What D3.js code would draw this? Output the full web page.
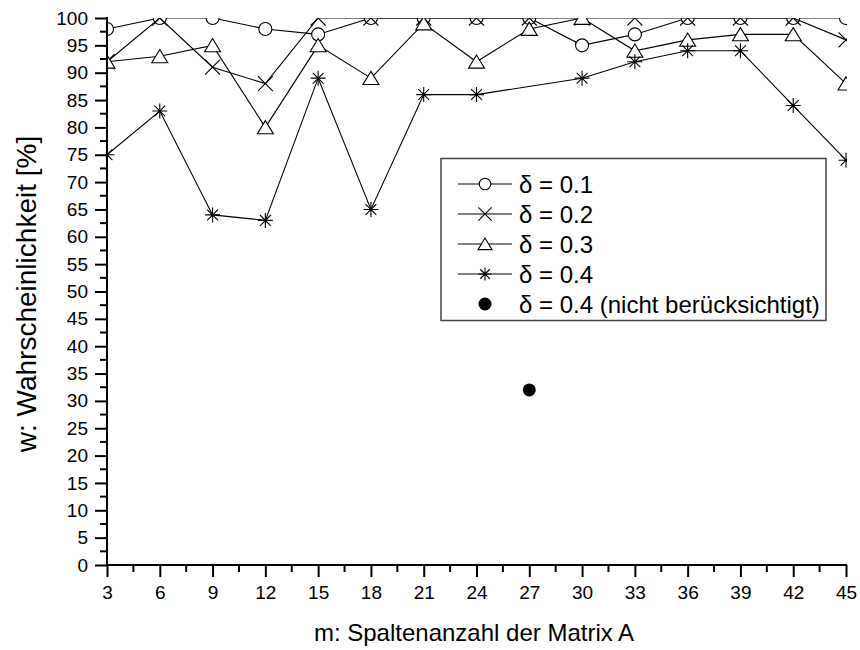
<!DOCTYPE html>
<html><head><meta charset="utf-8">
<script src="https://d3js.org/d3.v7.min.js"></script>
<style>
html,body{margin:0;padding:0;background:#fff;}
svg{display:block;font-family:Arial,"Liberation Sans",sans-serif;}
</style></head>
<body>
<svg id="chart" width="860" height="650"></svg>
<script>
// ---- data ----
const mValues = [3,6,9,12,15,18,21,24,27,30,33,36,39,42,45];
const delta01 = [98,100,100,98,97,100,100,100,100,95,97,100,100,100,100];
const delta02 = [92,100,91,88,100,100,100,100,100,100,100,100,100,100,96];
const delta03 = [92,93,95,80,95,89,99,92,98,100,94,96,97,97,88];
const delta04 = [75,83,64,63,89,65,86,86,null,89,92,94,94,84,74];
const excludedM = [27];
const excludedW = [32];
const seriesNames = ["δ = 0.1","δ = 0.2","δ = 0.3","δ = 0.4"];
const excludedName = "δ = 0.4 (nicht berücksichtigt)";
const xTicks = [3,6,9,12,15,18,21,24,27,30,33,36,39,42,45];
const yTicks = [0,5,10,15,20,25,30,35,40,45,50,55,60,65,70,75,80,85,90,95,100];
const xTitle = "m: Spaltenanzahl der Matrix A";
const yTitle = "w: Wahrscheinlichkeit [%]";

// ---- layout ----
const svg = d3.select("#chart");
const x = d3.scaleLinear().domain([3,45]).range([107,846]);
const y = d3.scaleLinear().domain([0,100]).range([565,18]);

// marker path generators
const markers = {
  circle: (r) => { const s=d3.path(); s.moveTo(r,0); s.arc(0,0,r,0,2*Math.PI); s.closePath(); return s.toString(); },
  cross: (r) => `M${-r},${-r}L${r},${r}M${-r},${r}L${r},${-r}`,
  triangle: (r) => `M0,${-r*0.85}L${r},${r*0.8}L${-r},${r*0.8}Z`,
  star: (r) => { const d=r*0.72; return `M0,${-r}L0,${r}M${-r},0L${r},0M${-d},${-d}L${d},${d}M${-d},${d}L${d},${-d}`; }
};
const series = [
  {name:seriesNames[0], values:delta01, marker:"circle", size:6.5},
  {name:seriesNames[1], values:delta02, marker:"cross", size:7.5},
  {name:seriesNames[2], values:delta03, marker:"triangle", size:8},
  {name:seriesNames[3], values:delta04, marker:"star", size:7.5}
];

// clip
svg.append("defs").append("clipPath").attr("id","plotclip")
  .append("rect").attr("x",x(3)).attr("y",y(100))
  .attr("width",x(45)-x(3)+1).attr("height",y(0)-y(100)+2);

const plot = svg.append("g").attr("clip-path","url(#plotclip)");
const line = d3.line().x(d=>x(d.m)).y(d=>y(d.w));

series.forEach(s=>{
  const pts = mValues.map((m,i)=>({m, w:s.values[i]})).filter(d=>d.w!=null);
  plot.append("path").attr("d",line(pts)).attr("fill","none")
    .attr("stroke","#000").attr("stroke-width",1.1);
  plot.selectAll(null).data(pts).enter().append("path")
    .attr("transform",d=>`translate(${x(d.m)},${y(d.w)})`)
    .attr("d",markers[s.marker](s.size))
    .attr("fill","#fff").attr("stroke","#000").attr("stroke-width",1.1);
});
// excluded point
plot.selectAll(null).data(excludedM.map((m,i)=>({m,w:excludedW[i]}))).enter()
  .append("circle").attr("cx",d=>x(d.m)).attr("cy",d=>y(d.w)).attr("r",6.5).attr("fill","#000");

// ---- axes ----
const xMinor = d3.range(4.5,45,3);
const yMinor = d3.range(2.5,100,5);
const axisG = svg.append("g");
// x axis
const xAxis = d3.axisBottom(x).tickValues(xTicks).tickSize(12).tickPadding(9).tickFormat(d3.format("d"));
const gx = axisG.append("g").attr("transform",`translate(0,${y(0)})`).call(xAxis);
gx.selectAll("line").attr("stroke-width",2);
gx.append("g").selectAll("line").data(xMinor).enter().append("line")
  .attr("x1",d=>x(d)).attr("x2",d=>x(d)).attr("y1",0).attr("y2",7).attr("stroke","#000").attr("stroke-width",2);
// y axis
const yAxis = d3.axisLeft(y).tickValues(yTicks).tickSize(12).tickPadding(7).tickFormat(d3.format("d"));
const gy = axisG.append("g").attr("transform",`translate(${x(3)},0)`).call(yAxis);
gy.selectAll("line").attr("stroke-width",2);
gy.append("g").selectAll("line").data(yMinor).enter().append("line")
  .attr("y1",d=>y(d)).attr("y2",d=>y(d)).attr("x1",0).attr("x2",-7).attr("stroke","#000").attr("stroke-width",2);
[gx,gy].forEach(g=>{
  g.select(".domain").attr("stroke-width",2).attr("d", g===gx ? `M${x(3)-1},0H${x(45)+1}` : `M0,${y(0)+1}V${y(100)-1}`);
  g.selectAll("text").attr("font-size",19).attr("font-family","Arial, 'Liberation Sans', sans-serif").attr("fill","#000");
});

// titles
svg.append("text").attr("x",474).attr("y",641).attr("text-anchor","middle")
  .attr("font-size",24).text(xTitle);
svg.append("text").attr("transform","translate(36,294) rotate(-90)").attr("text-anchor","middle")
  .attr("font-size",28).text(yTitle);

// ---- legend ----
const lg = svg.append("g");
lg.append("rect").attr("x",441).attr("y",158.5).attr("width",385).attr("height",162)
  .attr("fill","#fff").attr("stroke","#444").attr("stroke-width",1.5);
const rowY = d3.range(5).map(i=>184+i*30);
series.forEach((s,i)=>{
  const ry = rowY[i];
  lg.append("line").attr("x1",458).attr("x2",512).attr("y1",ry).attr("y2",ry).attr("stroke","#000").attr("stroke-width",1.1);
  lg.append("path").attr("transform",`translate(485,${ry})`).attr("d",markers[s.marker](s.size*0.88))
    .attr("fill","#fff").attr("stroke","#000").attr("stroke-width",1.1);
  lg.append("text").attr("x",519).attr("y",ry+8.5).attr("font-size",24).text(s.name);
});
lg.append("circle").attr("cx",485).attr("cy",rowY[4]).attr("r",6.5).attr("fill","#000");
lg.append("text").attr("x",519).attr("y",rowY[4]+8.5).attr("font-size",24).text(excludedName);
</script>
</body></html>
